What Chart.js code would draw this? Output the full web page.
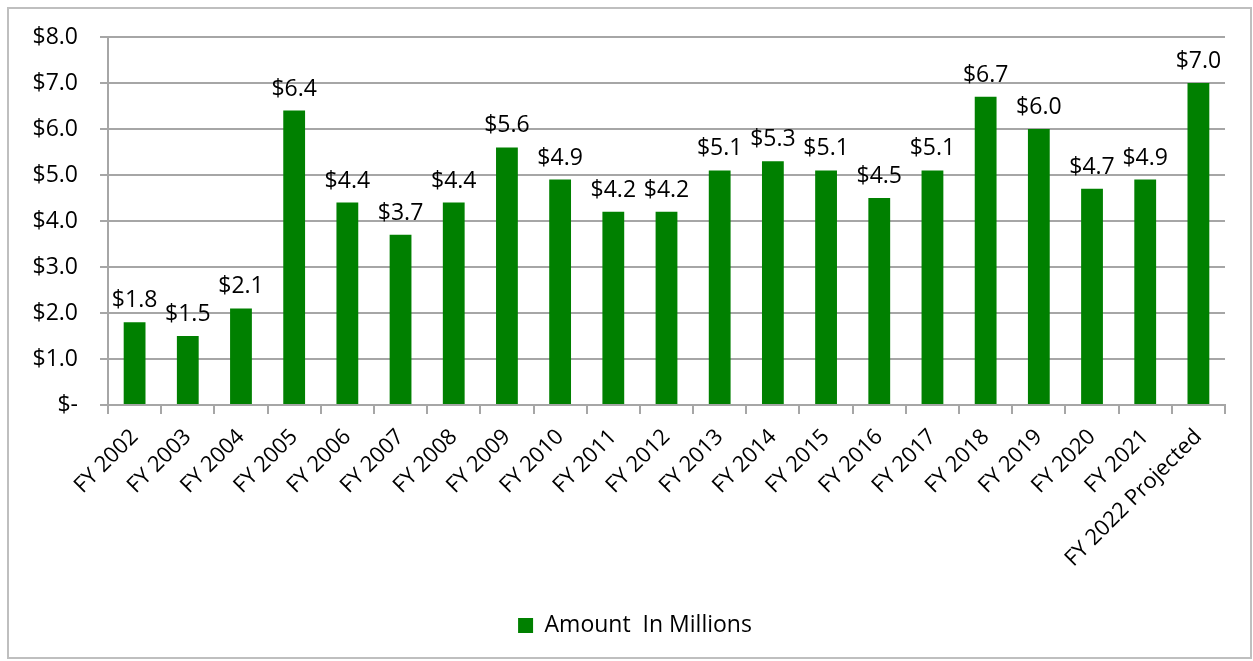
<!DOCTYPE html>
<html>
<head>
<meta charset="utf-8">
<script src="https://cdn.jsdelivr.net/npm/chart.js@4.4.0/dist/chart.umd.min.js"></script>
<style>
  body { margin: 0; background: #fff; }
  canvas { display: block; }
</style>
</head>
<body>
<canvas id="myChart" width="1253" height="661"></canvas>
<script>
const categories = ["FY 2002", "FY 2003", "FY 2004", "FY 2005", "FY 2006", "FY 2007", "FY 2008",
  "FY 2009", "FY 2010", "FY 2011", "FY 2012", "FY 2013", "FY 2014", "FY 2015", "FY 2016",
  "FY 2017", "FY 2018", "FY 2019", "FY 2020", "FY 2021", "FY 2022 Projected"];
const amounts = [1.8, 1.5, 2.1, 6.4, 4.4, 3.7, 4.4, 5.6, 4.9, 4.2, 4.2, 5.1, 5.3, 5.1, 4.5, 5.1, 6.7, 6.0, 4.7, 4.9, 7.0];
const yTicks = [0, 1, 2, 3, 4, 5, 6, 7, 8];
const seriesName = "Amount  In Millions";

const money = (v) => (v === 0 ? "$-" : "$" + Number(v).toFixed(1));
const FONT = "'Open Sans', sans-serif";

// frame around the whole chart, nudge legend, value labels over bars
const frame = {
  id: "frame",
  afterLayout(chart) {
    chart.legend.left += 19;
    chart.legend.right += 19;
  },
  beforeDraw(chart) {
    const c = chart.ctx;
    c.save();
    c.fillStyle = "#fff";
    c.fillRect(0, 0, chart.width, chart.height);
    c.strokeStyle = "#bfbfbf";
    c.lineWidth = 2;
    c.strokeRect(8, 8, 1243, 650);
    c.restore();
  },
};

const valueLabels = {
  id: "valueLabels",
  afterDatasetsDraw(chart) {
    const c = chart.ctx;
    const meta = chart.getDatasetMeta(0);
    c.save();
    c.font = "23px " + FONT;
    c.fillStyle = "#000";
    c.textAlign = "center";
    c.textBaseline = "alphabetic";
    meta.data.forEach((bar, i) => {
      c.fillText(money(amounts[i]), bar.x, bar.y - 15);
    });
    c.restore();
  },
};

const ctx = document.getElementById("myChart");

new Chart(ctx, {
  type: "bar",
  data: {
    labels: categories,
    datasets: [
      {
        label: seriesName,
        data: amounts,
        backgroundColor: "#008000",
        borderWidth: 0,
        barPercentage: 0.82,
        categoryPercentage: 0.5,
      },
    ],
  },
  options: {
    responsive: false,
    animation: false,
    layout: { padding: { left: 7, right: 28, top: 37, bottom: 14 } },
    plugins: {
      legend: {
        position: "bottom",
        labels: {
          boxWidth: 15,
          boxHeight: 15,
          padding: 10,
          color: "#000",
          font: { family: FONT, size: 23 },
        },
      },
      tooltip: { enabled: false },
    },
    scales: {
      x: {
        afterFit: (s) => { s.height = 199; },
        grid: {
          offset: true,
          drawOnChartArea: false,
          drawTicks: true,
          tickLength: 9,
          color: "#a6a6a6",
          lineWidth: 2,
        },
        border: { color: "#a6a6a6", width: 2 },
        ticks: {
          color: "#000",
          font: { family: FONT, size: 22 },
          maxRotation: 45,
          minRotation: 45,
          autoSkip: false,
          padding: 10,
        },
      },
      y: {
        min: 0,
        max: 8,
        afterFit: (s) => { s.width = 101; },
        afterBuildTicks: (s) => { s.ticks = yTicks.map((v) => ({ value: v })); },
        grid: {
          color: "#a6a6a6",
          lineWidth: 2,
          tickLength: 8,
        },
        border: { color: "#a6a6a6", width: 2 },
        ticks: {
          color: "#000",
          font: { family: FONT, size: 23 },
          padding: 22,
          callback: (v) => money(v),
        },
      },
    },
  },
  plugins: [frame, valueLabels],
});
</script>
</body>
</html>
